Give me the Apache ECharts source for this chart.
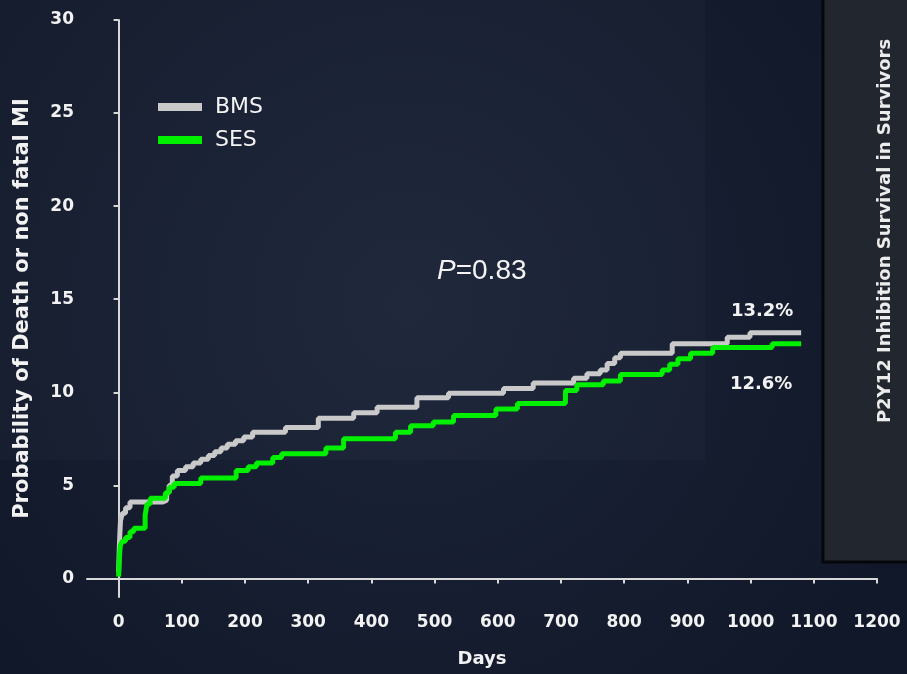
<!DOCTYPE html>
<html>
<head>
<meta charset="utf-8">
<script src="https://cdn.jsdelivr.net/npm/echarts@6/dist/echarts.min.js"></script>
<style>
  html, body { margin: 0; padding: 0; background: #141c2e; }
  #chart { width: 907px; height: 674px; }
</style>
</head>
<body>
<div id="chart"></div>
<script>
// Kaplan-Meier step points: day on which the cumulative rate changes, and the new rate (%)
const bmsDays = [0, 1, 2, 3, 6, 11, 18, 70, 76, 80, 85, 93, 106, 118, 130, 142, 152, 162, 172, 185, 198, 212, 264, 316, 372, 409, 472, 522, 609, 656, 720, 741, 762, 773, 785, 794, 876, 963, 999, 1080];
const bmsRisk = [0.3, 1.5, 2.4, 3.1, 3.5, 3.8, 4.1, 4.2, 4.6, 5.0, 5.5, 5.8, 6.0, 6.2, 6.4, 6.6, 6.8, 7.0, 7.2, 7.4, 7.6, 7.85, 8.1, 8.6, 8.9, 9.2, 9.7, 9.95, 10.2, 10.5, 10.75, 11.0, 11.2, 11.55, 11.85, 12.1, 12.6, 12.95, 13.2, 13.2];

const sesDays = [0, 1, 2, 3, 6, 11, 18, 24, 42, 45, 50, 74, 80, 88, 130, 186, 205, 218, 244, 258, 328, 356, 438, 462, 498, 530, 597, 631, 707, 725, 767, 794, 860, 872, 885, 905, 940, 1034, 1080];
const sesRisk = [0.1, 0.9, 1.5, 1.8, 2.0, 2.2, 2.5, 2.7, 3.4, 4.0, 4.3, 4.6, 4.9, 5.1, 5.4, 5.8, 6.0, 6.2, 6.5, 6.7, 7.0, 7.5, 7.85, 8.2, 8.4, 8.75, 9.1, 9.4, 10.1, 10.4, 10.6, 10.95, 11.2, 11.5, 11.8, 12.1, 12.4, 12.6, 12.6];

const seriesNames = ['BMS', 'SES'];
const dayTicks = [0, 100, 200, 300, 400, 500, 600, 700, 800, 900, 1000, 1100, 1200];
const riskTicks = [0, 5, 10, 15, 20, 25, 30];

const FONT = 'DejaVu Sans';
const AXIS_COLOR = '#d8d8d8';
const GREY = '#c9c9c9';
const GREEN = '#00f000';

function zip(xs, ys) { return xs.map((x, i) => [x, ys[i]]); }

function endMark(days, risk, offset) {
  const n = days.length - 1;
  return {
    symbol: 'circle',
    symbolSize: 0,
    silent: true,
    data: [{ coord: [days[n], risk[n]], value: risk[n] }],
    label: {
      show: true,
      position: 'inside',
      offset: offset,
      formatter: p => p.value.toFixed(1) + '%',
      color: '#f2f2f2',
      fontFamily: FONT,
      fontWeight: 'bold',
      fontSize: 18
    }
  };
}

const tickText = {
  color: '#f2f2f2',
  fontFamily: FONT,
  fontWeight: 'bold',
  fontSize: 17,
  formatter: v => String(v)
};

const chart = echarts.init(document.getElementById('chart'), null, { renderer: 'canvas' });

chart.setOption({
  animation: false,
  backgroundColor: {
    type: 'radial', x: 0.45, y: 0.45, r: 0.8,
    colorStops: [
      { offset: 0, color: '#1c2439' },
      { offset: 1, color: '#111829' }
    ]
  },
  grid: { left: 87, right: 30, top: 20, bottom: 77, containLabel: false },
  legend: {
    orient: 'vertical',
    left: 153,
    top: 90,
    icon: 'rect',
    itemWidth: 44,
    itemHeight: 8,
    itemGap: 9,
    data: seriesNames,
    textStyle: {
      color: '#f4f4f4',
      fontFamily: FONT,
      fontSize: 22,
      lineHeight: 24,
      padding: [0, 0, 0, 8]
    }
  },
  xAxis: {
    type: 'value',
    min: -50,
    max: 1200,
    name: 'Days',
    nameLocation: 'middle',
    nameGap: 53,
    nameTextStyle: { color: '#f2f2f2', fontFamily: FONT, fontWeight: 'bold', fontSize: 18 },
    axisLine: { show: true, lineStyle: { color: AXIS_COLOR, width: 2 } },
    axisTick: { show: true, customValues: dayTicks, length: 5, lineStyle: { color: AXIS_COLOR, width: 2 } },
    axisLabel: Object.assign({ customValues: dayTicks, margin: 17 }, tickText),
    splitLine: { show: false }
  },
  yAxis: {
    type: 'value',
    min: -1,
    max: 30,
    name: 'Probability of Death or non fatal MI',
    nameLocation: 'middle',
    nameGap: 54,
    nameTextStyle: { color: '#f2f2f2', fontFamily: FONT, fontWeight: 'bold', fontSize: 21 },
    axisLine: { show: true, lineStyle: { color: AXIS_COLOR, width: 2 } },
    axisTick: { show: true, customValues: riskTicks, length: 5, lineStyle: { color: AXIS_COLOR, width: 2 } },
    axisLabel: Object.assign({ customValues: riskTicks, margin: 13 }, tickText),
    splitLine: { show: false }
  },
  series: [
    {
      name: 'BMS',
      type: 'line',
      step: 'end',
      showSymbol: false,
      data: zip(bmsDays, bmsRisk),
      itemStyle: { color: GREY },
      lineStyle: { color: GREY, width: 5 },
      markPoint: endMark(bmsDays, bmsRisk, [-39, -21])
    },
    {
      name: 'SES',
      type: 'line',
      step: 'end',
      showSymbol: false,
      data: zip(sesDays, sesRisk),
      itemStyle: { color: GREEN },
      lineStyle: { color: GREEN, width: 5 },
      markPoint: endMark(sesDays, sesRisk, [-40, 40])
    }
  ],
  graphic: [
    {
      type: 'rect',
      z: -10,
      silent: true,
      shape: { x: 0, y: 0, width: 705, height: 460 },
      style: { fill: 'rgba(255,255,255,0.018)' }
    },
    {
      type: 'rect',
      silent: true,
      shape: { x: 823, y: -10, width: 100, height: 572 },
      style: { fill: '#22272f', stroke: '#05070b', lineWidth: 3 }
    },
    {
      type: 'text',
      silent: true,
      x: 885,
      y: 231,
      rotation: Math.PI / 2,
      style: {
        text: 'P2Y12 Inhibition Survival in Survivors',
        align: 'center',
        verticalAlign: 'middle',
        fill: '#ececec',
        font: 'bold 18px "DejaVu Sans"'
      }
    },
    {
      type: 'text',
      silent: true,
      x: 437,
      y: 271,
      style: {
        text: '{i|P}{n|=0.83}',
        verticalAlign: 'middle',
        rich: {
          i: { fill: '#f4f4f4', fontFamily: 'Liberation Sans', fontStyle: 'italic', fontSize: 28 },
          n: { fill: '#f4f4f4', fontFamily: 'Liberation Sans', fontSize: 28 }
        }
      }
    }
  ]
});
</script>
</body>
</html>
